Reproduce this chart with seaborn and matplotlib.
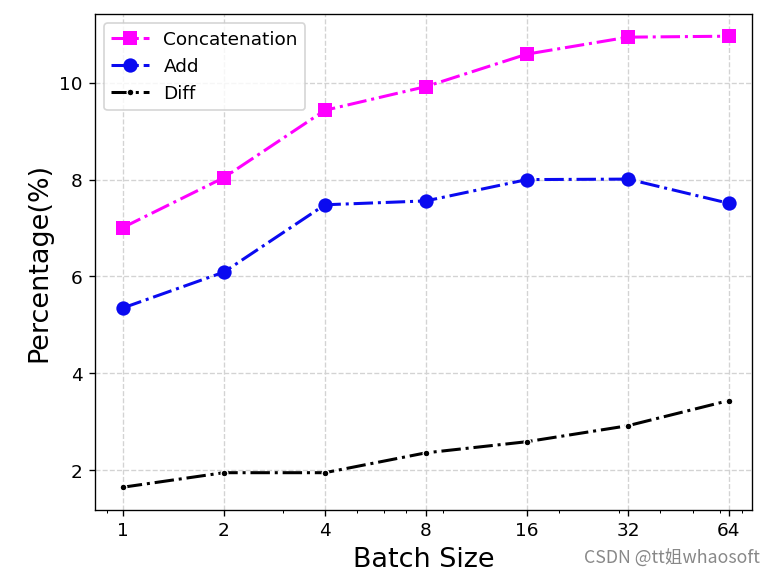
import matplotlib
matplotlib.use("Agg")
import pandas as pd
import seaborn as sns
import matplotlib.pyplot as plt
from matplotlib.ticker import ScalarFormatter, NullFormatter

batch_sizes = [1, 2, 4, 8, 16, 32, 64]
concat_vals = [7.01, 8.04, 9.43, 9.92, 10.59, 10.94, 10.96]
add_vals = [5.35, 6.09, 7.48, 7.56, 8.00, 8.01, 7.51]
diff_vals = [1.65, 1.95, 1.95, 2.36, 2.59, 2.92, 3.44]

df = pd.DataFrame({'Batch': batch_sizes, 'Concatenation': concat_vals,
                   'Add': add_vals, 'Diff': diff_vals})

fig, ax = plt.subplots(figsize=(6.4, 4.78), dpi=121.4)

sns.lineplot(data=df, x='Batch', y='Concatenation', ax=ax, color='magenta',
             linestyle='-.', marker='s', markersize=8.5, markeredgewidth=0,
             linewidth=1.8, label='Concatenation')
sns.lineplot(data=df, x='Batch', y='Add', ax=ax, color='#0a0af0',
             linestyle='-.', marker='o', markersize=8.5, markeredgewidth=0,
             linewidth=1.8, label='Add')
sns.lineplot(data=df, x='Batch', y='Diff', ax=ax, color='black',
             linestyle='-.', marker='.', markersize=8,
             linewidth=1.8, label='Diff')

ax.set_xscale('log')
ax.set_xlim(0.825, 75)
ax.set_xticks(batch_sizes)
ax.xaxis.set_major_formatter(ScalarFormatter())
ax.xaxis.set_minor_formatter(NullFormatter())
ax.set_yticks([2, 4, 6, 8, 10])
ax.tick_params(labelsize=11)
ax.grid(True, which='major', linestyle='--', color='lightgray', linewidth=0.8)
ax.set_xlabel('Batch Size', fontsize=16)
ax.set_ylabel('Percentage(%)', fontsize=16)
ax.legend(loc='upper left', fontsize=11)

fig.text(0.978, 0.038, 'CSDN @tt姐whaosoft', ha='right', va='center',
         fontsize=10.5, color='#888888',
         family=['Noto Sans CJK SC', 'DejaVu Sans'])

plt.subplots_adjust(left=0.122, right=0.968, top=0.976, bottom=0.121)
plt.savefig('out.png')
